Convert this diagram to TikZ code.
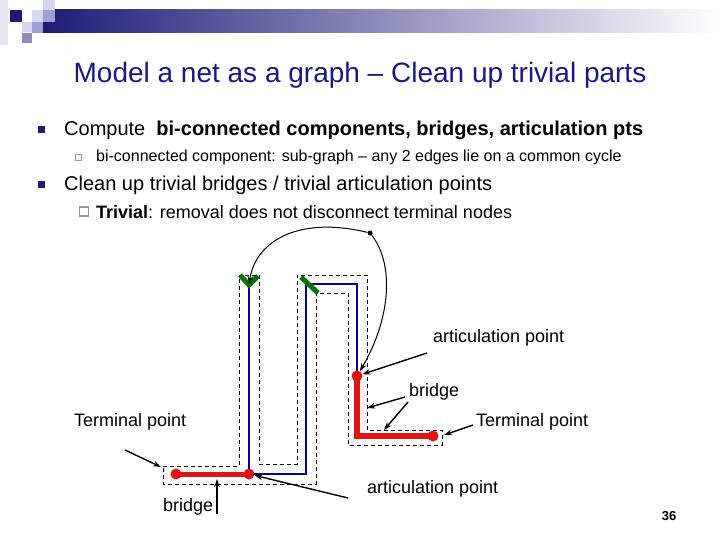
\documentclass[tikz,border=0pt]{standalone}
\usepackage{fontspec}
\setmainfont{Liberation Sans}
\usetikzlibrary{arrows.meta,calc,backgrounds}
\definecolor{navy}{RGB}{28,28,120}
\definecolor{ttl}{RGB}{24,24,140}
\definecolor{lav}{RGB}{214,214,236}
\definecolor{lavm}{RGB}{160,160,208}
\definecolor{lavd}{RGB}{140,140,190}
\definecolor{edgeb}{RGB}{0,0,165}
\definecolor{edger}{RGB}{225,20,20}
\definecolor{leaf}{RGB}{0,118,0}
\definecolor{boxg}{RGB}{150,150,172}

\begin{document}
\begin{tikzpicture}[
  x=1pt, y=-1pt,
  >={Stealth[length=8pt,width=5.5pt]},
  every node/.style={inner sep=0pt, text=black},
  ttl/.style={text=ttl, font=\fontsize{28}{32}\selectfont},
  lvone/.style={anchor=west, font=\fontsize{20}{24}\selectfont},
  lvtwo/.style={anchor=west, font=\fontsize{16}{19}\selectfont},
  lvtwob/.style={anchor=west, font=\fontsize{18}{21}\selectfont},
  lab/.style={anchor=west, font=\fontsize{18}{21}\selectfont},
  bul/.style={fill=navy, minimum size=7pt},
  sbul/.style={draw=boxg, line width=0.8pt, minimum size=6pt},
  rdot/.style={circle, fill=edger, minimum size=11pt},
  kdot/.style={circle, fill=black, minimum size=5pt},
  bic/.style={draw=edgeb, line width=2.2pt},
  brg/.style={draw=edger, line width=5pt},
  tick/.style={draw=leaf, line width=5pt},
  hull/.style={draw=black, line width=0.8pt, dash pattern=on 4pt off 3pt},
  ptr/.style={draw=black, line width=1.4pt, ->},
  arc/.style={draw=black, line width=1pt, ->},
]
\useasboundingbox (0,0) rectangle (720,540);

% ---------------- header bar ----------------
\fill[lav!60] (0,0) rectangle (8,45);
\shade[left color=navy, middle color={rgb,255:red,170;green,170;blue,196}, right color=white]
  (43,10) rectangle (720,33);
\fill[navy] (10,10) rectangle (22,22);
\fill[lav] (32,10) rectangle (43,22);
\fill[lav] (43,0) rectangle (55,10);
\fill[lavm] (43,10) rectangle (55,22);
\fill[lav] (22,22) rectangle (32,32);
\fill[lavm] (32,22) rectangle (43,33);
\fill[lavd] (22,33) rectangle (32,43);

% ---------------- title and bullets ----------------
\node[ttl] (title) at (360,75) {Model a net as a graph -- Clean up trivial parts};

\node[bul]  (b1) at (41.5,130) {};
\node[lvone] (l1) at (64,130) {Compute\ \ \textbf{bi-connected components, bridges, articulation pts}};
\node[sbul] (s1) at (78.5,157.5) {};
\node[lvtwo] (l2) at (96,157) {bi-connected component: sub-graph -- any 2 edges lie on a common cycle};
\node[bul]  (b2) at (41.5,185) {};
\node[lvone] (l3) at (64,185) {Clean up trivial bridges / trivial articulation points};
\node[sbul, minimum size=9pt, line width=1.5pt] (s2) at (84,211.5) {};
\node[lvtwob] (l4) at (96,212) {\textbf{Trivial}: removal does not disconnect terminal nodes};

% ---------------- graph ----------------
\node[rdot] (t1) at (176,474) {};
\node[rdot] (a1) at (249,474) {};
\node[rdot] (a2) at (357,376) {};
\node[rdot] (t2) at (433,436) {};
\node[kdot] (p)  at (370,233) {};
\coordinate (g1) at (249,284);
\coordinate (c1) at (306,474);
\coordinate (c2) at (306,284);
\coordinate (c3) at (357,284);
\coordinate (c4) at (357,436);

\begin{scope}[on background layer]
  % dashed hull round the whole path
  \draw[hull] (163,466) -- (239,466) -- (239,275) -- (259,275) -- (259,464)
    -- (297,464) -- (297,275) -- (367,275) -- (367,430) -- (442,430)
    -- (442,445) -- (348,445) -- (348,293) -- (316,293) -- (316,484)
    -- (163,484) -- cycle;
  % edges
  \draw[bic] (a1.center) -- (g1);
  \draw[bic] (a1.center) -- (c1) -- (c2) -- (c3) -- (a2.center);
  \draw[brg] (t1.center) -- (a1.center);
  \draw[brg, line width=6pt] (a2.center) -- (c4) -- (t2.center);
\end{scope}

% cut marks on the two top ends
\draw[tick] ($(g1)+(-9,-9)$) -- ($(g1)+(0,1)$) -- ($(g1)+(9,-8)$);
\draw[tick] ($(c2)+(-5,-7)$) -- ($(c2)+(12,9)$);

% path round from p
\draw[arc] (p) .. controls (300,216) and (256,240) .. (g1);
\draw[arc] (p) .. controls (395,265) and (390,320) .. (a2);

% ---------------- labels ----------------
\node[lab] (artR)  at (433,338) {articulation point};
\node[lab] (brR)   at (409,392) {bridge};
\node[lab] (termR) at (476,422) {Terminal point};
\node[lab] (termL) at (74,422)  {Terminal point};
\node[lab] (brL)   at (163,507) {bridge};
\node[lab] (artB)  at (367,489) {articulation point};

\coordinate (artRs)  at (427,353);
\coordinate (brRs1)  at (405,397);
\coordinate (brRs2)  at (408,402);
\coordinate (brRt1)  at (367,408);
\coordinate (brRt2)  at (384,430);
\coordinate (termRs) at (473,425);
\coordinate (termRt) at (444,435);
\coordinate (termLs) at (125,450);
\coordinate (termLt) at (161,467);
\coordinate (brLs)   at (217,514);
\coordinate (brLt)   at (217,479);
\coordinate (artBs)  at (348,498);

\draw[ptr] (artRs) -- (a2);
\draw[ptr] (brRs1) -- (brRt1);
\draw[ptr] (brRs2) -- (brRt2);
\draw[ptr] (termRs) -- (termRt);
\draw[ptr] (termLs) -- (termLt);
\draw[ptr] (brLs) -- (brLt);
\draw[ptr] (artBs) -- (a1);

% page number
\node[font=\bfseries\fontsize{13}{15}\selectfont] (pg) at (669,516) {36};

\end{tikzpicture}
\end{document}
